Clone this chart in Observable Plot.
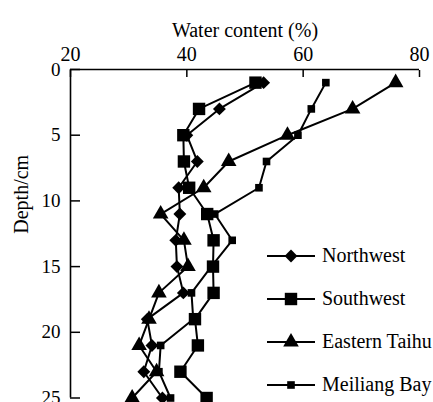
<!DOCTYPE html>
<html>
<head>
<meta charset="utf-8">
<script src="https://cdn.jsdelivr.net/npm/d3@7"></script>
<script src="https://cdn.jsdelivr.net/npm/@observablehq/plot@0.6"></script>
<style>
  html, body { margin: 0; padding: 0; background: #fff; }
  #wrap { position: relative; width: 433px; height: 402px; overflow: hidden; }
  #legend { position: absolute; left: 0; top: 0; }
</style>
</head>
<body>
<div id="wrap">
  <div id="chart"></div>
  <svg id="legend" width="433" height="402"></svg>
</div>
<script>
// Sediment depth (cm) of each sample
const depths = [1, 3, 5, 7, 9, 11, 13, 15, 17, 19, 21, 23, 25];

// Water content (%) per region, top to bottom
const northwest    = [53.2, 45.6, 40.0, 41.8, 38.6, 38.8, 38.1, 38.3, 39.4, 33.2, 34.0, 32.6, 35.8];
const southwest    = [51.8, 42.1, 39.4, 39.5, 40.4, 43.5, 44.6, 44.5, 44.6, 41.4, 41.9, 38.9, 43.4];
const easternTaihu = [75.9, 68.5, 57.3, 47.2, 42.9, 35.5, 39.5, 40.2, 35.2, 33.5, 31.8, 34.8, 30.6];
const meiliangBay  = [63.9, 61.4, 59.1, 53.7, 52.4, 44.8, 47.8, 44.2, 40.8, 41.1, 35.5, 35.2, 37.2];

const seriesNames = ["Northwest", "Southwest", "Eastern Taihu", "Meiliang Bay"];
const seriesValues = [northwest, southwest, easternTaihu, meiliangBay];

// Axis ticks and titles
const xTicks = [20, 40, 60, 80];
const yTicks = [0, 5, 10, 15, 20, 25];
const xTitle = "Water content (%)";
const yTitle = "Depth/cm";

// Marker style per series
const markerStyle = {
  "Northwest":     {symbol: "diamond2", r: 5.8},
  "Southwest":     {symbol: "square",   r: 7.0},
  "Eastern Taihu": {symbol: "triangle", r: 5.8},
  "Meiliang Bay":  {symbol: "square",   r: 4.3}
};

const rows = seriesNames.flatMap((name, i) =>
  depths.map((d, j) => ({series: name, depth: d, water: seriesValues[i][j]}))
);

const font = "'Liberation Serif', 'Times New Roman', serif";

const plot = Plot.plot({
  width: 433,
  height: 420,
  marginLeft: 70,
  marginRight: 14,
  marginTop: 69,
  marginBottom: 22.5,
  style: {fontFamily: font, fontSize: "20px", color: "black", background: "white", overflow: "visible"},
  x: {domain: [20, 80]},
  y: {domain: [0, 25], reverse: true},
  marks: [
    Plot.axisX({anchor: "top", ticks: xTicks, tickSize: 0, tickPadding: 9, label: null, fontSize: 20}),
    Plot.axisX({anchor: "top", ticks: xTicks, tickSize: -7, text: null, label: null, strokeWidth: 1.5}),
    Plot.axisY({anchor: "left", ticks: yTicks, tickSize: 0, tickPadding: 10, label: null, fontSize: 19}),
    Plot.axisY({anchor: "left", ticks: yTicks, tickSize: -10, text: null, label: null, strokeWidth: 1.5}),
    Plot.ruleY([0], {stroke: "black", strokeWidth: 1.6}),
    Plot.ruleX([20], {stroke: "black", strokeWidth: 1.6}),
    Plot.text([xTitle], {frameAnchor: "top", dy: -47, fontSize: 20, fill: "black"}),
    Plot.text([yTitle], {frameAnchor: "left", dx: -49, rotate: -90, fontSize: 20, fill: "black"}),
    Plot.line(rows, {x: "water", y: "depth", z: "series", stroke: "black", strokeWidth: 2}),
    ...seriesNames.map(name =>
      Plot.dot(rows.filter(d => d.series === name), {
        x: "water", y: "depth",
        symbol: markerStyle[name].symbol,
        r: markerStyle[name].r,
        fill: "black", stroke: "none"
      })
    )
  ]
});
document.getElementById("chart").appendChild(plot);

// Legend: line-and-marker swatch with a label, one row per series
const legend = d3.select("#legend");
const rowY = d3.scalePoint().domain(seriesNames).range([256, 385]);
const symbolOf = {diamond2: d3.symbolDiamond2, square: d3.symbolSquare, triangle: d3.symbolTriangle};
seriesNames.forEach(name => {
  const g = legend.append("g").attr("transform", `translate(291,${rowY(name)})`);
  g.append("line").attr("x1", -24).attr("x2", 24).attr("stroke", "black").attr("stroke-width", 2);
  const s = markerStyle[name];
  g.append("path")
    .attr("d", d3.symbol(symbolOf[s.symbol], Math.PI * s.r * s.r)())
    .attr("fill", "black");
  g.append("text")
    .attr("x", 31).attr("dy", "0.32em")
    .attr("font-family", font).attr("font-size", 20)
    .attr("fill", "black")
    .text(name);
});
</script>
</body>
</html>
